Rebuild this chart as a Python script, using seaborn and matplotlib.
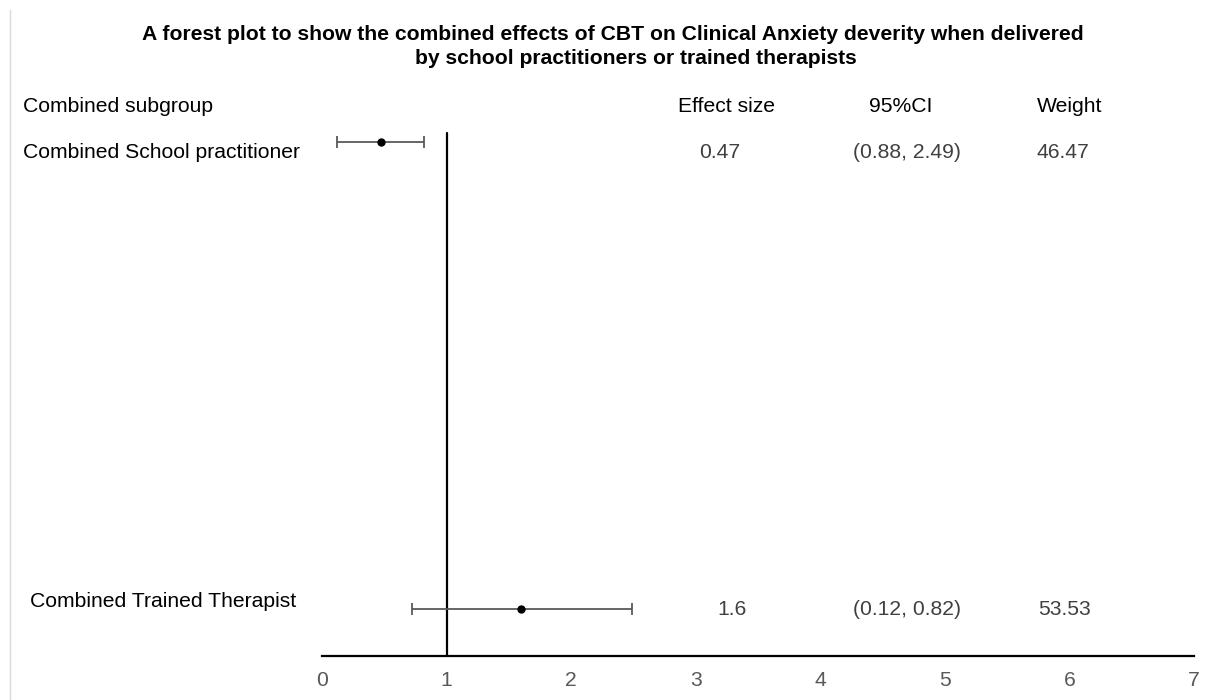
import matplotlib
matplotlib.use("Agg")
import matplotlib.pyplot as plt
from matplotlib.lines import Line2D
import seaborn as sns
import pandas as pd

# ---- data ----
groups = ["Combined School practitioner", "Combined Trained Therapist"]
effect = [0.47, 1.6]
ci_low = [0.12, 0.72]
ci_high = [0.82, 2.49]
effect_text = ["0.47", "1.6"]
ci_text = ["(0.88, 2.49)", "(0.12, 0.82)"]
weight_text = ["46.47", "53.53"]
headers = ["Combined subgroup", "Effect size", "95%CI", "Weight"]
x_ticks = [0, 1, 2, 3, 4, 5, 6, 7]
ref_value = 1
title_lines = ["A forest plot to show the combined effects of CBT on Clinical Anxiety deverity when delivered",
               "by school practitioners or trained therapists"]

sns.set_theme(style="white")
plt.rcParams["font.family"] = ["Liberation Sans", "DejaVu Sans"]

W, H = 1210, 700
fig = plt.figure(figsize=(W / 100, H / 100), dpi=100)
ax = fig.add_axes([322 / W, 44 / H, 872 / W, 556 / H])

df = pd.DataFrame({"group": groups, "effect": effect, "lo": ci_low, "hi": ci_high})
df["row"] = list(range(len(groups)))[::-1]

# error bars (CI)
ax.errorbar(df["effect"], df["row"],
            xerr=[df["effect"] - df["lo"], df["hi"] - df["effect"]],
            fmt="none", ecolor="#595959", elinewidth=1.3, capsize=4.3, capthick=1.3, zorder=2)
sns.scatterplot(data=df, x="effect", y="row", color="black", s=36, edgecolor="black",
                linewidth=0, ax=ax, zorder=3)

ax.axvline(ref_value, ymin=0, ymax=(656 - 133) / 556, color="black", lw=1.6, zorder=1)

ax.set_xlim(0, 7)
ax.set_ylim(-(656 - 609) / 467, 1 + (142 - 100) / 467)
ax.set_xticks(x_ticks)
ax.set_xticklabels([str(t) for t in x_ticks])
ax.set_yticks([])
ax.set_xlabel("")
ax.set_ylabel("")
for s in ["top", "right", "left"]:
    ax.spines[s].set_visible(False)
ax.spines["bottom"].set_color("black")
ax.spines["bottom"].set_linewidth(1.6)
ax.tick_params(axis="x", length=0, pad=11, labelsize=15.2, labelcolor="#595959")

FS = 15.2

def ftext(x, y, s, **kw):
    fig.text(x / W, 1 - y / H, s, fontsize=FS, va="baseline", **kw)

# title
ftext(613, 40, title_lines[0], ha="center", weight="bold", color="black")
ftext(636, 64, title_lines[1], ha="center", weight="bold", color="black")

# headers
ftext(23, 112, headers[0], ha="left", color="black")
ftext(727, 112, headers[1], ha="center", color="black")
ftext(901, 112, headers[2], ha="center", color="black")
ftext(1070, 112, headers[3], ha="center", color="black")

# rows
label_pos = [(23, 158), (30, 607)]
value_base = [158, 615]
eff_x = [720, 732]
w_x = [1063, 1065]
for i in range(len(groups)):
    lx, ly = label_pos[i]
    ftext(lx, ly, groups[i], ha="left", color="black")
    ftext(eff_x[i], value_base[i], effect_text[i], ha="center", color="#404040")
    ftext(907, value_base[i], ci_text[i], ha="center", color="#404040")
    ftext(w_x[i], value_base[i], weight_text[i], ha="center", color="#404040")

# faint frame edge at left
fig.add_artist(Line2D([10 / W, 10 / W], [0, 1 - 10 / H], color="#d9d9d9", lw=1,
                      transform=fig.transFigure))

fig.savefig("out.png", dpi=100, facecolor="white")
